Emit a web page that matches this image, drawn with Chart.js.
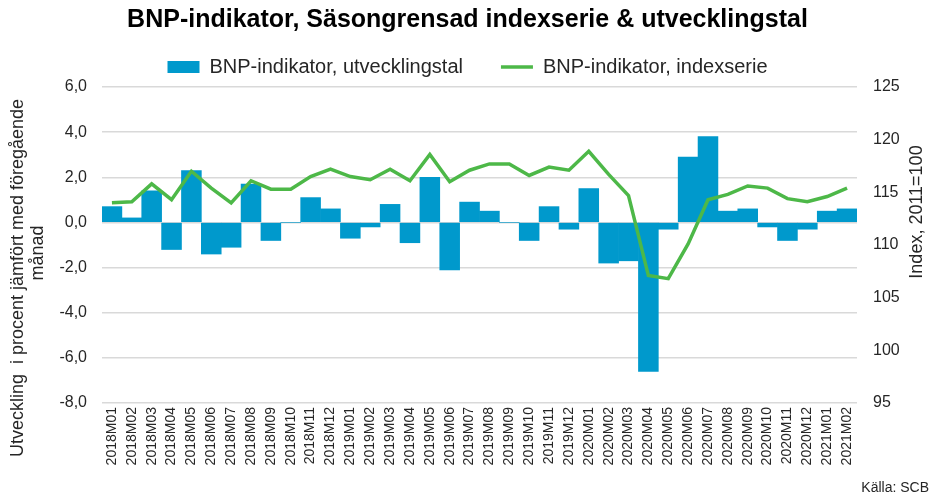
<!DOCTYPE html>
<html>
<head>
<meta charset="utf-8">
<script src="https://cdn.jsdelivr.net/npm/chart.js@4.4.1/dist/chart.umd.min.js"></script>
<style>
  html, body { margin: 0; padding: 0; background: #fff; }
  #wrap { width: 935px; height: 498px; position: relative; }
</style>
</head>
<body>
<div id="wrap"><canvas id="bnpChart" width="935" height="498"></canvas></div>
<script>
// Months 2018M01 - 2021M02
const months = [
  "2018M01", "2018M02", "2018M03", "2018M04", "2018M05", "2018M06", "2018M07", "2018M08",
  "2018M09", "2018M10", "2018M11", "2018M12", "2019M01", "2019M02", "2019M03", "2019M04",
  "2019M05", "2019M06", "2019M07", "2019M08", "2019M09", "2019M10", "2019M11", "2019M12",
  "2020M01", "2020M02", "2020M03", "2020M04", "2020M05", "2020M06", "2020M07", "2020M08",
  "2020M09", "2020M10", "2020M11", "2020M12", "2021M01", "2021M02"
];

// Utvecklingstal, procent jämfört med föregående månad (left axis)
const growth = [
  0.7, 0.2, 1.4, -1.2, 2.3, -1.4, -1.1, 1.7,
  -0.8, 0.0, 1.1, 0.6, -0.7, -0.2, 0.8, -0.9,
  2.0, -2.1, 0.9, 0.5, 0.0, -0.8, 0.7, -0.3,
  1.5, -1.8, -1.7, -6.6, -0.3, 2.9, 3.8, 0.5,
  0.6, -0.2, -0.8, -0.3, 0.5, 0.6
];

// Indexserie, 2011=100 (right axis)
const indexSeries = [
  114.0, 114.1, 115.8, 114.3, 117.0, 115.4, 114.0, 116.1,
  115.3, 115.3, 116.5, 117.2, 116.5, 116.2, 117.2, 116.1,
  118.6, 116.0, 117.1, 117.7, 117.7, 116.6, 117.4, 117.1,
  118.9, 116.7, 114.7, 107.1, 106.8, 110.1, 114.3, 114.8,
  115.6, 115.4, 114.4, 114.1, 114.6, 115.4
];

const leftTicks = [-8, -6, -4, -2, 0, 2, 4, 6];
const rightTicks = [95, 100, 105, 110, 115, 120, 125];

const BLUE = "#0099cc";
const GREEN = "#4db848";
const TEXT = "#262626";
const FONT = "'Liberation Sans', Arial, sans-serif";

// Axis titles and source note, drawn in Excel style (both read bottom-to-top)
const titlesPlugin = {
  id: "axisTitles",
  afterDraw(chart) {
    const ctx = chart.ctx;
    ctx.save();
    ctx.fillStyle = TEXT;
    ctx.font = "18px " + FONT;
    ctx.textAlign = "center";
    ctx.textBaseline = "middle";

    ctx.save();
    ctx.translate(18, 278);
    ctx.rotate(-Math.PI / 2);
    ctx.fillText("Utveckling  i procent jämfört med föregående", 0, 0);
    ctx.restore();

    ctx.save();
    ctx.translate(38, 253);
    ctx.rotate(-Math.PI / 2);
    ctx.fillText("månad", 0, 0);
    ctx.restore();

    ctx.save();
    ctx.translate(917, 212);
    ctx.rotate(-Math.PI / 2);
    ctx.fillText("Index, 2011=100", 0, 0);
    ctx.restore();

    ctx.font = "14px " + FONT;
    ctx.textAlign = "right";
    ctx.fillText("Källa: SCB", 929, 488);
    ctx.restore();
  }
};

const ctxBnp = document.getElementById("bnpChart").getContext("2d");

new Chart(ctxBnp, {
  type: "bar",
  data: {
    labels: months,
    datasets: [
      {
        type: "bar",
        label: "BNP-indikator, utvecklingstal",
        data: growth,
        backgroundColor: BLUE,
        borderWidth: 0,
        categoryPercentage: 1.0,
        barPercentage: 1.0,
        yAxisID: "y",
        order: 2
      },
      {
        type: "line",
        label: "BNP-indikator, indexserie",
        data: indexSeries,
        borderColor: GREEN,
        backgroundColor: GREEN,
        borderWidth: 3.5,
        pointRadius: 0,
        tension: 0,
        yAxisID: "y2",
        order: 1
      }
    ]
  },
  options: {
    responsive: false,
    animation: false,
    devicePixelRatio: 1,
    layout: { padding: { top: 4, left: 0, right: 0, bottom: 0 } },
    plugins: {
      title: {
        display: true,
        text: "BNP-indikator, Säsongrensad indexserie & utvecklingstal",
        color: "#000",
        font: { family: FONT, size: 25, weight: "bold" },
        padding: { top: 1, bottom: -16 }
      },
      legend: {
        display: true,
        position: "top",
        labels: {
          color: TEXT,
          font: { family: FONT, size: 20 },
          usePointStyle: true,
          pointStyleWidth: 32,
          boxHeight: 12,
          padding: 38,
          generateLabels(chart) {
            return chart.data.datasets.map((ds, i) => ({
              text: ds.label,
              datasetIndex: i,
              fillStyle: ds.type === "bar" ? BLUE : GREEN,
              strokeStyle: ds.type === "bar" ? BLUE : GREEN,
              lineWidth: ds.type === "bar" ? 0 : 3.5,
              pointStyle: ds.type === "bar" ? "rect" : "line",
              fontColor: TEXT,
              hidden: false
            }));
          }
        }
      },
      tooltip: { enabled: false }
    },
    scales: {
      x: {
        grid: { display: false, drawTicks: false },
        border: { display: false },
        ticks: {
          color: TEXT,
          font: { family: FONT, size: 14 },
          minRotation: 90,
          maxRotation: 90,
          autoSkip: false,
          padding: 4
        },
        afterFit(scale) { scale.height = 95; }
      },
      y: {
        position: "left",
        min: -8,
        max: 6,
        afterBuildTicks(scale) { scale.ticks = leftTicks.map(v => ({ value: v })); },
        grid: { color: "#d9d9d9", lineWidth: 1.5, drawTicks: false },
        border: { display: false },
        ticks: {
          color: TEXT,
          font: { family: FONT, size: 16 },
          padding: 15,
          callback: v => v.toFixed(1).replace(".", ",")
        },
        afterFit(scale) { scale.width = 102; }
      },
      y2: {
        position: "right",
        min: 95,
        max: 125,
        afterBuildTicks(scale) { scale.ticks = rightTicks.map(v => ({ value: v })); },
        grid: { display: false, drawTicks: false },
        border: { display: false },
        ticks: {
          color: TEXT,
          font: { family: FONT, size: 16 },
          padding: 16
        },
        afterFit(scale) { scale.width = 78; }
      }
    }
  },
  plugins: [titlesPlugin]
});
</script>
</body>
</html>
